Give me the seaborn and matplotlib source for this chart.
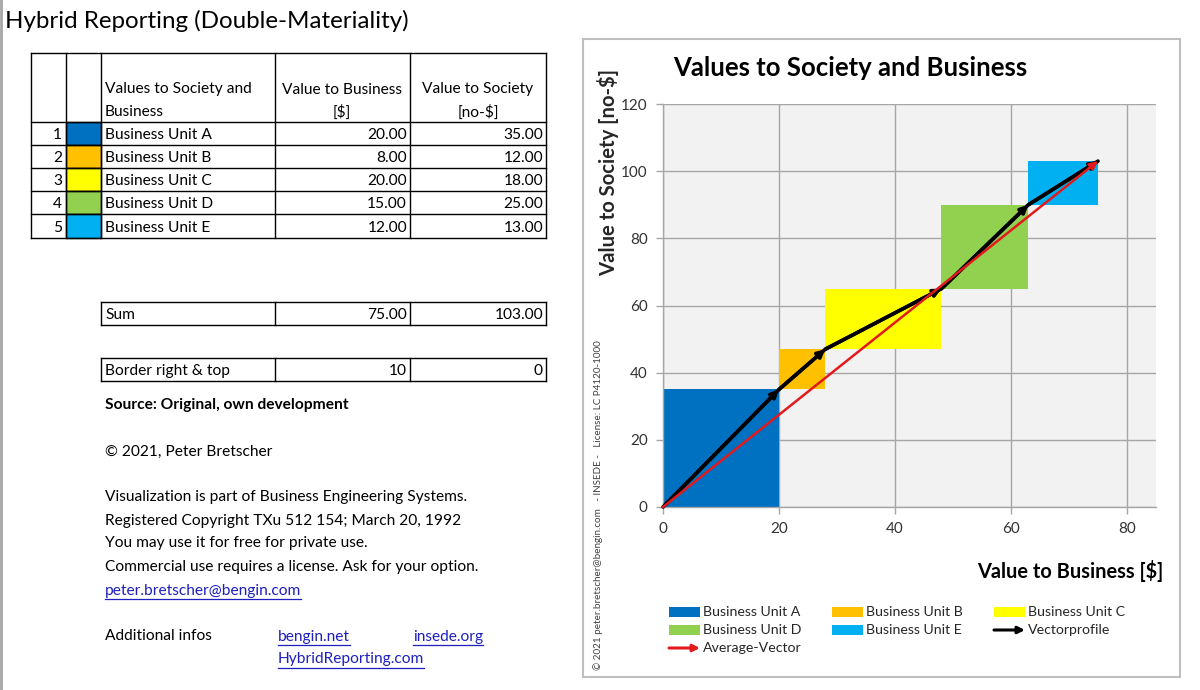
import matplotlib
matplotlib.use("Agg")
import matplotlib.pyplot as plt
import seaborn as sns
import numpy as np
from matplotlib.patches import Rectangle

# ---------------- data ----------------
units = ["Business Unit A", "Business Unit B", "Business Unit C", "Business Unit D", "Business Unit E"]
value_business = [20.0, 8.0, 20.0, 15.0, 12.0]
value_society = [35.0, 12.0, 18.0, 25.0, 13.0]
unit_colors = ["#0070C0", "#FFC000", "#FFFF00", "#92D050", "#00B0F0"]
border_right = 10
border_top = 0
x_ticks = [0, 20, 40, 60, 80]
y_ticks = [0, 20, 40, 60, 80, 100, 120]
y_max = 120

sns.set_theme(style="white")
FONT = ["Lato", "DejaVu Sans"]
plt.rcParams["font.family"] = FONT

fig = plt.figure(figsize=(12, 6.9), dpi=100)
bg = fig.add_axes([0, 0, 1, 1], zorder=0)
bg.set_xlim(0, 1200)
bg.set_ylim(690, 0)
bg.axis("off")

FS = 11.2
DY = 1.5  # small baseline shift to match the spreadsheet text


def T(x, y, s, ha="left", **kw):
    kw.setdefault("fontsize", FS)
    kw.setdefault("color", "black")
    return bg.text(x, y + DY, s, ha=ha, va="center", **kw)


def L(x0, y0, x1, y1, **kw):
    kw.setdefault("color", "black")
    kw.setdefault("lw", 1.0)
    bg.plot([x0, x1], [y0, y1], solid_capstyle="projecting", **kw)


# left border line
L(1, 0, 1, 690, color="#A6A6A6", lw=2)

# page title
T(5, 19, "Hybrid Reporting (Double-Materiality)", fontsize=17.4)

# ---------------- table ----------------
cols = [31, 66, 101, 275, 410, 546]
rows = [53, 122, 145, 168, 191, 214, 238]
for x in cols:
    L(x, rows[0], x, rows[-1])
for y in rows:
    L(cols[0], y, cols[-1], y)

T(105, 88, "Values to Society and")
T(105, 111, "Business")
T(342, 88, "Value to Business", ha="center")
T(342, 111, "[$]", ha="center")
T(478, 88, "Value to Society", ha="center")
T(478, 111, "[no-$]", ha="center")

for i, (u, b, s, c) in enumerate(zip(units, value_business, value_society, unit_colors)):
    y0, y1 = rows[i + 1], rows[i + 2]
    yc = (y0 + y1) / 2
    bg.add_patch(Rectangle((cols[1], y0), cols[2] - cols[1], y1 - y0, facecolor=c, edgecolor="black", lw=1.0))
    T(cols[1] - 4, yc, str(i + 1), ha="right")
    T(105, yc, u)
    T(cols[4] - 3, yc, f"{b:.2f}", ha="right")
    T(cols[5] - 3, yc, f"{s:.2f}", ha="right")

sum_b = sum(value_business)
sum_s = sum(value_society)

for (ya, yb, lab, v1, v2) in [(302, 325, "Sum", f"{sum_b:.2f}", f"{sum_s:.2f}"),
                              (358, 381, "Border right & top", f"{border_right}", f"{border_top}")]:
    L(101, ya, 546, ya)
    L(101, yb, 546, yb)
    for x in [101, 275, 410, 546]:
        L(x, ya, x, yb)
    yc = (ya + yb) / 2
    T(105, yc, lab)
    T(407, yc, v1, ha="right")
    T(543, yc, v2, ha="right")

T(105, 404, "Source: Original, own development", fontweight="bold")
T(105, 450, "\u00a9 2021, Peter Bretscher")
T(105, 496, "Visualization is part of Business Engineering Systems.")
T(105, 519, "Registered Copyright TXu 512 154; March 20, 1992")
T(105, 542, "You may use it for free for private use.")
T(105, 565, "Commercial use requires a license. Ask for your option.")
LINK = "#1F1FBF"
links = [
    T(105, 589, "peter.bretscher@bengin.com", color=LINK),
    T(278, 635, "bengin.net", color=LINK),
    T(413, 635, "insede.org", color=LINK),
    T(278, 658, "HybridReporting.com", color=LINK),
]
T(105, 635, "Additional infos")

# ---------------- chart frame ----------------
bg.add_patch(Rectangle((583, 39), 1180 - 583, 677 - 39, facecolor="white", edgecolor="#BFBFBF", lw=1.5, zorder=0))
T(850, 67, "Values to Society and Business", ha="center", fontsize=18.5, fontweight="bold")
bg.text(608, 172, "Value to Society [no-$]", ha="center", va="center", fontsize=14.6,
        fontweight="bold", rotation=90)
T(1163, 569, "Value to Business [$]", ha="right", fontsize=14.4, fontweight="bold")
bg.text(598, 505, "\u00a9 2021 peter.bretscher@bengin.com   - INSEDE -   License: LC P4120-1000",
        ha="center", va="center", fontsize=7.1, rotation=90, color="#404040")

# ---------------- chart axes ----------------
ax = fig.add_axes([663 / 1200, 1 - 507 / 690, (1156 - 663) / 1200, (507 - 104) / 690], zorder=2)
ax.set_facecolor("#F2F2F2")
x_start = np.concatenate([[0], np.cumsum(value_business)[:-1]])
y_start = np.concatenate([[0], np.cumsum(value_society)[:-1]])
ax.bar(x_start, value_society, width=value_business, bottom=y_start, align="edge",
       color=unit_colors, linewidth=0, zorder=2)

cum_x = np.concatenate([[0], np.cumsum(value_business)])
cum_y = np.concatenate([[0], np.cumsum(value_society)])
sns.lineplot(x=cum_x, y=cum_y, ax=ax, color="black", lw=2.6, sort=False, zorder=3)
for i in range(len(units)):
    ax.annotate("", xy=(cum_x[i + 1], cum_y[i + 1]), xytext=(cum_x[i], cum_y[i]),
                arrowprops=dict(arrowstyle="-|>", color="black", lw=2.6, mutation_scale=11,
                                shrinkA=0, shrinkB=0), zorder=4)
ax.annotate("", xy=(cum_x[-1], cum_y[-1]), xytext=(0, 0),
            arrowprops=dict(arrowstyle="-|>", color="#E31A1C", lw=1.8, mutation_scale=12,
                            shrinkA=0, shrinkB=0), zorder=5)

ax.set_xlim(0, sum_b + border_right)
ax.set_ylim(0, y_max)
ax.set_xticks(x_ticks)
ax.set_yticks(y_ticks)
ax.set_axisbelow(True)
ax.grid(True, color="#A6A6A6", lw=1.0)
for sp in ["top", "right"]:
    ax.spines[sp].set_visible(False)
for sp in ["left", "bottom"]:
    ax.spines[sp].set_color("#A6A6A6")
    ax.spines[sp].set_linewidth(1.0)
ax.tick_params(axis="both", length=5, width=1.0, color="#A6A6A6", labelsize=11,
               labelcolor="#333333", direction="out", bottom=True, left=True, pad=6)
ax.set_xlabel("")
ax.set_ylabel("")

# ---------------- legend ----------------
leg_rows = [612, 630, 648]
leg_cols = [(669, 701), (832, 864), (994, 1026)]
entries = [(u, c) for u, c in zip(units, unit_colors)] + [("Vectorprofile", "arrow_black"), ("Average-Vector", "arrow_red")]
for k, (lab, c) in enumerate(entries):
    r, cidx = divmod(k, 3)
    hx, tx = leg_cols[cidx]
    y = leg_rows[r]
    if c.startswith("arrow"):
        col = "black" if c == "arrow_black" else "#E31A1C"
        bg.annotate("", xy=(hx + 31, y), xytext=(hx, y),
                    arrowprops=dict(arrowstyle="-|>", color=col, lw=2.2, mutation_scale=10,
                                    shrinkA=0, shrinkB=0))
    else:
        bg.add_patch(Rectangle((hx, y - 5), 31, 10, facecolor=c, edgecolor="none"))
    T(tx + 2, y - DY, lab, fontsize=10.2, color="#262626")

# underlines for links, sized to the rendered text
fig.canvas.draw()
renderer = fig.canvas.get_renderer()
inv = bg.transData.inverted()
for t in links:
    bb = t.get_window_extent(renderer)
    (x0, _), (x1, _) = inv.transform([(bb.x0, bb.y0), (bb.x1, bb.y0)])
    yb = t.get_position()[1] + 8
    L(x0, yb, x1, yb, color=LINK, lw=0.9)

fig.savefig("out.png", dpi=100)
